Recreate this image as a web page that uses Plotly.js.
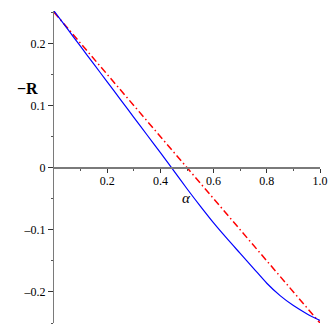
<!DOCTYPE html>
<html>
<head>
<meta charset="utf-8">
<script src="https://cdn.plot.ly/plotly-3.0.1.min.js"></script>
<style>
  html, body { margin: 0; padding: 0; background: #fff; }
  #graph { width: 332px; height: 332px; }
</style>
</head>
<body>
<div id="graph"></div>
<script>
// blue curve: -R against alpha
var alpha = [0, 0.05, 0.1, 0.15, 0.2, 0.25, 0.3, 0.35, 0.4, 0.45, 0.5,
             0.55, 0.6, 0.65, 0.7, 0.75, 0.8, 0.85, 0.9, 0.95, 1.0];
var minusR = [0.252, 0.2235, 0.195, 0.1665, 0.138, 0.1095, 0.081, 0.0525, 0.024, -0.005, -0.034,
              -0.062, -0.089, -0.114, -0.138, -0.162, -0.186, -0.206, -0.222, -0.235, -0.246];

// red dash-dot straight line
var lineAlpha = [0, 1];
var lineR = [0.25, -0.25];

var xTicks = [0.2, 0.4, 0.6, 0.8, 1.0];
var xTickText = ['0.2', '0.4', '0.6', '0.8', '1.0'];
var xMinor = [0.1, 0.3, 0.5, 0.7, 0.9];
var yTicks = [-0.2, -0.1, 0, 0.1, 0.2];
var yTickText = ['\u20130.2', '\u20130.1', '0', '0.1', '0.2'];
var yMinor = [-0.25, -0.15, -0.05, 0.05, 0.15, 0.25];

var axisColor = '#7a7a7a';
var serif = 'Liberation Serif';

var yMin = -0.25, yMax = 0.252;

var data = [{
    x: lineAlpha,
    y: lineR,
    type: 'scatter',
    mode: 'lines',
    line: {color: '#ff0000', width: 1.5, dash: '7px,3px,1.5px,3px'},
    hoverinfo: 'none'
},
    {
        x: alpha,
        y: minusR,
        type: 'scatter',
        mode: 'lines',
        line: {color: '#0000ff', width: 1.2, shape: 'spline', smoothing: 0.8},
        hoverinfo: 'none'
    }];

// label positions in paper fractions
function paperY(v) { return (v - yMin) / (yMax - yMin); }

var layout = {
    width: 332,
    height: 332,
    margin: {l: 54, r: 12, t: 11, b: 9},
    paper_bgcolor: '#fff',
    plot_bgcolor: '#fff',
    showlegend: false,
    font: {family: serif, size: 11, color: '#000'},
    xaxis: {
        range: [0, 1],
        anchor: 'free',
        position: paperY(0),
        showgrid: false,
        zeroline: false,
        showline: true,
        linecolor: axisColor,
        linewidth: 2,
        ticks: 'outside',
        ticklen: 4,
        tickwidth: 1,
        tickcolor: '#333',
        tickmode: 'array',
        tickvals: xTicks,
        ticktext: xTickText,
        ticklabelstandoff: -2,
        tickfont: {family: serif, size: 12, color: '#000'},
        minor: {tickmode: 'array', tickvals: xMinor, ticks: 'outside', ticklen: 2, tickcolor: '#555'}
    },
    yaxis: {
        range: [yMin, yMax],
        showgrid: false,
        zeroline: false,
        showline: true,
        linecolor: axisColor,
        linewidth: 1,
        ticks: 'outside',
        ticklen: 5,
        tickwidth: 1,
        tickcolor: '#333',
        tickmode: 'array',
        tickvals: yTicks,
        ticktext: yTickText,
        tickfont: {family: serif, size: 12, color: '#000'},
        minor: {tickmode: 'array', tickvals: yMinor, ticks: 'outside', ticklen: 2, tickcolor: '#555'}
    },
    annotations: [{
        x: -0.1015, y: paperY(0.128), xref: 'paper', yref: 'paper',
        xanchor: 'center', yanchor: 'middle',
        text: '<b>\u2212R</b>',
        showarrow: false,
        font: {family: serif, size: 16, color: '#000'}
    },
        {
            x: 0.497, y: paperY(-0.049), xref: 'paper', yref: 'paper',
            xanchor: 'center', yanchor: 'middle',
            text: '<i>\u03b1</i>',
            showarrow: false,
            font: {family: serif, size: 15, color: '#000'}
        }]
};

Plotly.newPlot('graph', data, layout, {staticPlot: true, displayModeBar: false});
</script>
</body>
</html>
